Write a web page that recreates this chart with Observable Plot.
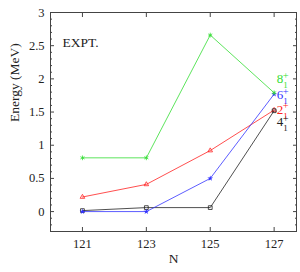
<!DOCTYPE html>
<html>
<head>
<meta charset="utf-8">
<script src="https://cdn.jsdelivr.net/npm/d3@7"></script>
<script src="https://cdn.jsdelivr.net/npm/@observablehq/plot@0.6"></script>
<style>
  html, body { margin: 0; padding: 0; background: #fff; }
  svg { display: block; }
  svg, svg text { font-family: "Liberation Serif", "Times New Roman", serif !important; }
</style>
</head>
<body>
<div id="chart"></div>
<script>
const N = [121, 123, 125, 127];
const e8 = [0.81, 0.81, 2.66, 1.79];
const e6 = [0.00, 0.00, 0.50, 1.77];
const e2 = [0.22, 0.41, 0.92, 1.53];
const e4 = [0.015, 0.06, 0.06, 1.52];

const labelMain = ["8", "6", "2", "4"];
const labelY = [2.00, 1.76, 1.54, 1.35];
const labelColor = ["#33dd33", "#3333ff", "#ff2222", "#222222"];

const yMajor = [0, 0.5, 1, 1.5, 2, 2.5, 3];
const yMinor = d3.range(-2, 30).map(d => d / 10).filter(v => !yMajor.some(m => Math.abs(m - v) < 1e-9));

const rows = (vals) => N.map((n, i) => ({N: n, E: vals[i]}));
const d8 = rows(e8), d6 = rows(e6), d2 = rows(e2), d4 = rows(e4);
const labels = labelMain.map((t, i) => ({t, y: labelY[i], c: labelColor[i]}));

const font = "'Liberation Serif', 'Times New Roman', serif";
const frameColor = "#444";
const fmt = d => String(d);

const chart = Plot.plot({
  width: 300,
  height: 272,
  marginLeft: 50,
  marginRight: 4,
  marginTop: 12,
  marginBottom: 41,
  style: {fontFamily: font, fontSize: "12px", background: "#fff", color: "#222"},
  x: {domain: [120, 127.7], label: null},
  y: {domain: [-0.3, 3], label: null},
  marks: [
    Plot.frame({stroke: frameColor, strokeWidth: 1}),
    // inward ticks
    Plot.axisX({anchor: "bottom", ticks: N, tickSize: -4, tickFormat: () => "", stroke: frameColor, label: null}),
    Plot.axisX({anchor: "top", ticks: N, tickSize: -4, tickFormat: () => "", stroke: frameColor, label: null}),
    Plot.axisY({anchor: "left", ticks: yMajor, tickSize: -4, tickFormat: () => "", stroke: frameColor, label: null}),
    Plot.axisY({anchor: "right", ticks: yMajor, tickSize: -4, tickFormat: () => "", stroke: frameColor, label: null}),
    Plot.axisY({anchor: "left", ticks: yMinor, tickSize: -2, tickFormat: () => "", stroke: frameColor, label: null}),
    Plot.axisY({anchor: "right", ticks: yMinor, tickSize: -2, tickFormat: () => "", stroke: frameColor, label: null}),
    // tick labels
    Plot.axisX({anchor: "bottom", ticks: N, tickSize: 0, tickPadding: 8, tickFormat: fmt, fontSize: 12.5, fontFamily: font, fill: "#222", label: null}),
    Plot.axisY({anchor: "left", ticks: yMajor, tickSize: 0, tickPadding: 6, tickFormat: fmt, fontSize: 12.5, fontFamily: font, fill: "#222", label: null}),
    // axis titles
    Plot.text(["N"], {frameAnchor: "bottom", dy: 27, fontSize: 13.5, fontFamily: font, fill: "#222", lineAnchor: "middle"}),
    Plot.text(["Energy (MeV)"], {frameAnchor: "left", dx: -36, rotate: -90, fontSize: 13.5, fontFamily: font, fill: "#222", lineAnchor: "middle"}),
    Plot.text(["EXPT."], {frameAnchor: "top-left", dx: 12, dy: 30, textAnchor: "start", lineAnchor: "middle", fontSize: 13.5, fontFamily: font, fill: "#222"}),
    // series
    Plot.line(d2, {x: "N", y: "E", stroke: "#ff2222", strokeWidth: 0.8}),
    Plot.dot(d2, {x: "N", y: "E", symbol: "triangle2", stroke: "#ff2222", r: 2.2, strokeWidth: 0.8}),
    Plot.line(d4, {x: "N", y: "E", stroke: "#222", strokeWidth: 0.8}),
    Plot.dot(d4, {x: "N", y: "E", symbol: "square2", stroke: "#222", fill: "none", r: 2.4, strokeWidth: 0.8}),
    Plot.line(d6, {x: "N", y: "E", stroke: "#3333ff", strokeWidth: 0.8}),
    Plot.dot(d6, {x: "N", y: "E", symbol: "star", fill: "#3333ff", r: 1.8}),
    Plot.line(d8, {x: "N", y: "E", stroke: "#33dd33", strokeWidth: 0.8}),
    Plot.dot(d8, {x: "N", y: "E", symbol: "asterisk", stroke: "#33dd33", r: 2.2, strokeWidth: 0.8}),
    // state labels
    Plot.text(labels, {x: () => N[N.length - 1], y: "y", text: "t", fill: "c", dx: 2.5, textAnchor: "start", lineAnchor: "middle", fontSize: 13, fontFamily: font}),
    Plot.text(labels, {x: () => N[N.length - 1], y: "y", text: () => "1", fill: "c", dx: 9, dy: 6.5, textAnchor: "start", lineAnchor: "middle", fontSize: 9, fontFamily: font}),
    Plot.text(labels, {x: () => N[N.length - 1], y: "y", text: () => "+", fill: "c", dx: 8.5, dy: -3.5, textAnchor: "start", lineAnchor: "middle", fontSize: 10.5, fontFamily: font})
  ]
});

document.getElementById("chart").appendChild(chart);
</script>
</body>
</html>
